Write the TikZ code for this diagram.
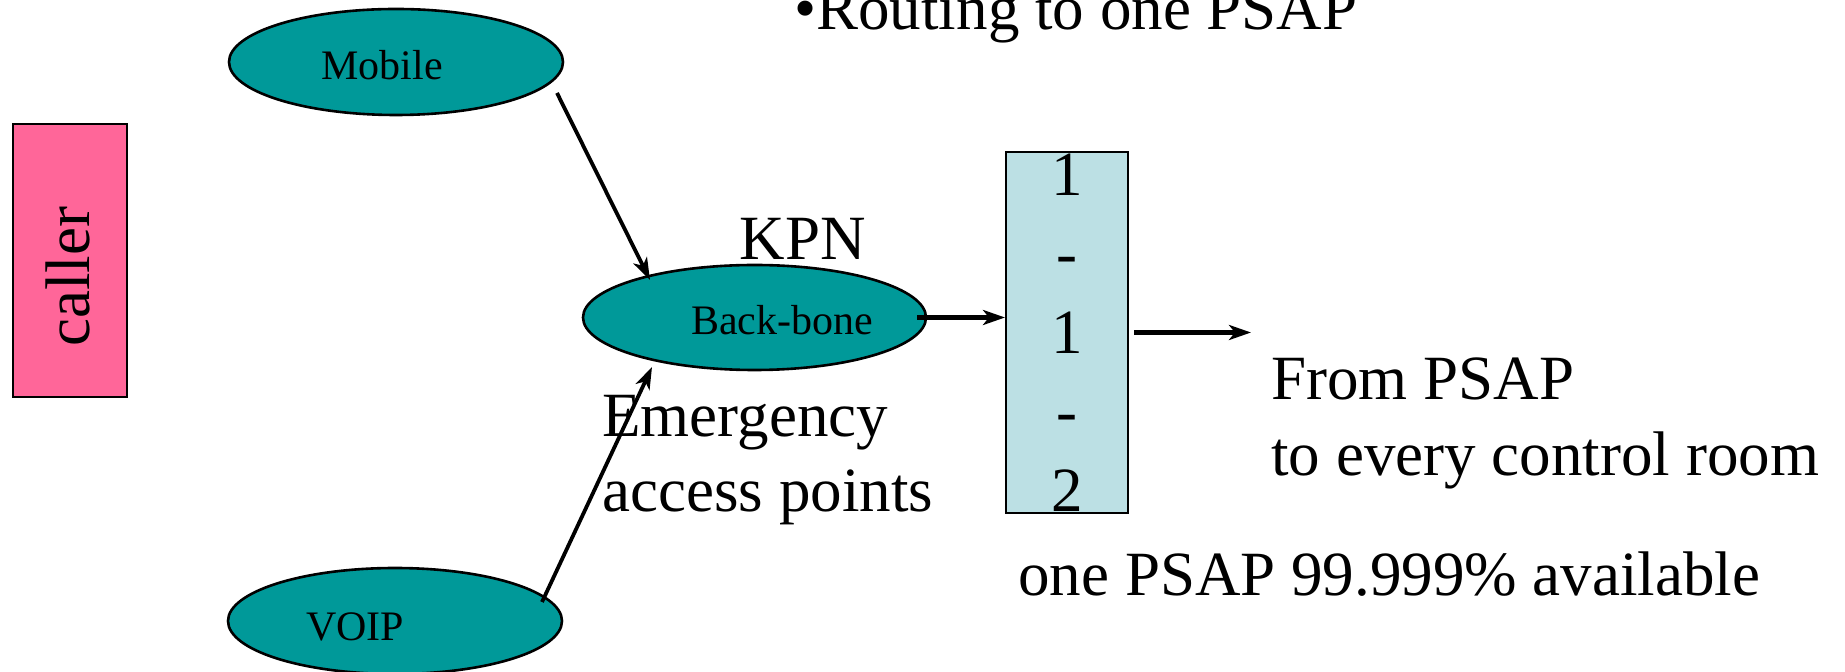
\documentclass[tikz,border=0pt]{standalone}
\usepackage{fontspec}
\setmainfont{Liberation Serif}
\usetikzlibrary{arrows.meta,shapes.geometric,calc}
\definecolor{tealfill}{HTML}{009999}
\definecolor{pinkfill}{HTML}{FF6699}
\definecolor{boxfill}{HTML}{BCE0E4}
\begin{document}
\begin{tikzpicture}[x=0.5pt,y=-0.5pt,
  big/.style={font=\fontsize{31.5}{38}\selectfont, inner sep=0pt},
  small/.style={font=\fontsize{21}{25}\selectfont, inner sep=0pt},
  ell/.style={ellipse, draw=black, line width=1.3pt, fill=tealfill, inner sep=0pt},
  arr/.style={-{Stealth[length=11pt,width=7.5pt,inset=3pt]}, line width=1.9pt},
  arrthick/.style={arr, line width=2.3pt}]
\useasboundingbox (0,0) rectangle (1845,672);
% caller
\node[draw=black, line width=1pt, fill=pinkfill, minimum width=57pt, minimum height=136.5pt, inner sep=0pt] (caller) at (70,260.5) {};
\node[big, rotate=90] (callertxt) at (68,277) {caller};
% ellipses
\node[ell, minimum width=167pt, minimum height=53pt] (mob) at (396,62) {};
\node[small, anchor=base] (mobtxt) at (382,80) {Mobile};
\node[ell, minimum width=167pt, minimum height=53pt] (voip) at (395,621) {};
\node[small, anchor=base] (voiptxt) at (355,640) {VOIP};
\node[ell, minimum width=171.5pt, minimum height=52.5pt] (bb) at (754.5,317.5) {};
\node[small, anchor=base] (bbtxt) at (782,335) {Back-bone};
\node[big, anchor=base] (kpn) at (803,260) {KPN};
\node[big, anchor=base west, align=left, font=\fontsize{31.5}{37.5}\selectfont] (eap) at (602,512) {Emergency\\access points};
% 1-1-2 box
\node[draw=black, line width=1pt, fill=boxfill, minimum width=61pt, minimum height=180.5pt, inner sep=0pt, align=center, font=\fontsize{31.5}{39.5}\selectfont] (box) at (1067,332.5) {1\\-\\1\\-\\2};
% texts right
\node[big, anchor=base west, align=left] (from) at (1271,476) {From PSAP\\to every control room};
\node[big, anchor=base west] (avail) at (1018,596) {one PSAP 99.999\% available};
\node[big, anchor=base west] (routing) at (794,30) {\textbullet Routing to one PSAP};
% connector end points
\coordinate (mobout) at ($(mob.center)+(161,31)$);
\coordinate (bbin1) at ($(bb.center)+(-104.5,-37.5)$);
\coordinate (voipout) at ($(voip.center)+(147,-19)$);
\coordinate (bbin2) at ($(bb.center)+(-102.5,49.5)$);
\coordinate (bbout) at ($(bb.center)+(162.5,0)$);
\coordinate (boxin) at (box.west |- bbout);
\coordinate (boxout) at ($(box.east)+(5,0)$);
\coordinate (outend) at ($(box.east)+(122,0)$);
% connectors
\draw[arr] (mobout) -- (bbin1);
\draw[arr] (voipout) -- (bbin2);
\draw[arrthick] (bbout) -- (boxin);
\draw[arrthick] (boxout) -- (outend);
\end{tikzpicture}
\end{document}
